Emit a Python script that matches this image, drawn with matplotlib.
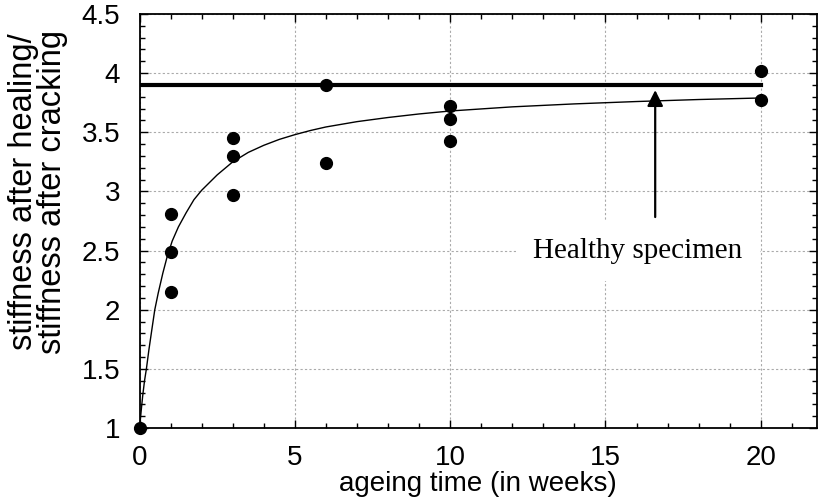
import matplotlib
matplotlib.use("Agg")
import matplotlib.pyplot as plt
from matplotlib.ticker import MultipleLocator

# measured points
weeks = [0, 1, 1, 1, 3, 3, 3, 6, 6, 10, 10, 10, 20, 20]
ratio = [1.0, 2.81, 2.49, 2.15, 3.45, 3.30, 2.97, 3.90, 3.24, 3.72, 3.61, 3.43, 4.02, 3.77]

# fitted curve
fit_weeks = [0, 0.05, 0.1, 0.16, 0.22, 0.3, 0.4, 0.49, 0.6, 0.75, 0.89, 1.05, 1.25,
             1.5, 1.75, 2.0, 2.5, 3, 3.5, 4, 4.5, 5, 5.5, 6, 7, 8, 9, 10, 12, 14,
             16, 18, 20]
fit_ratio = [1.0, 1.14, 1.27, 1.40, 1.50, 1.66, 1.84, 2.0, 2.14, 2.31, 2.45, 2.58, 2.70,
             2.82, 2.93, 3.01, 3.14, 3.25, 3.33, 3.39, 3.44, 3.48, 3.515, 3.545, 3.59,
             3.625, 3.655, 3.68, 3.715, 3.74, 3.76, 3.777, 3.79]

healthy_level = 3.9
healthy_span = [0, 20]
arrow_week = 16.6

plt.rcParams["font.family"] = ["Liberation Sans", "DejaVu Sans"]

fig = plt.figure(figsize=(8.2, 5), dpi=100)
ax = fig.add_axes([0.1702, 0.144, 0.8258, 0.828])

ax.plot(fit_weeks, fit_ratio, color="black", linewidth=1.0)
ax.plot(healthy_span, [healthy_level, healthy_level], color="black", linewidth=3.0)
ax.plot(weeks, ratio, "o", color="black", markersize=8.5, clip_on=False, zorder=5)

ax.annotate(
    "",
    xy=(arrow_week, healthy_level - 0.02),
    xytext=(arrow_week, 2.76),
    arrowprops=dict(arrowstyle="-|>", color="black", lw=1.6, mutation_scale=24),
)
ax.text(16.05, 2.5, "Healthy specimen", family="Liberation Serif", fontsize=21,
        ha="center", va="center",
        bbox=dict(boxstyle="square,pad=0.6", facecolor="white", edgecolor="none"),
        zorder=4)

ax.set_xlim(0, 21.8)
ax.set_ylim(1, 4.5)
ax.xaxis.set_major_locator(MultipleLocator(5))
ax.xaxis.set_minor_locator(MultipleLocator(1))
ax.yaxis.set_major_locator(MultipleLocator(0.5))
ax.yaxis.set_minor_locator(MultipleLocator(0.1))
ax.set_yticks([1, 1.5, 2, 2.5, 3, 3.5, 4, 4.5])
ax.set_yticklabels(["1", "1.5", "2", "2.5", "3", "3.5", "4", "4.5"])

ax.tick_params(which="both", direction="in", top=True, right=True, width=1.0)
ax.tick_params(which="major", length=6, labelsize=20)
ax.tick_params(which="minor", length=3.5)
ax.tick_params(axis="x", pad=12)
ax.tick_params(axis="y", pad=14)
for s in ax.spines.values():
    s.set_linewidth(1.3)

ax.grid(True, which="major", linestyle=(0, (2, 2)), color="#aaaaaa", linewidth=0.8)

ax.set_xlabel("ageing time (in weeks)", fontsize=20, labelpad=0)
ax.set_ylabel("stiffness after healing/\nstiffness after cracking", fontsize=23.5,
              ha="center", va="center", linespacing=0.95)
ax.yaxis.set_label_coords(-0.15, 0.57)

fig.savefig("out.png", dpi=100)
